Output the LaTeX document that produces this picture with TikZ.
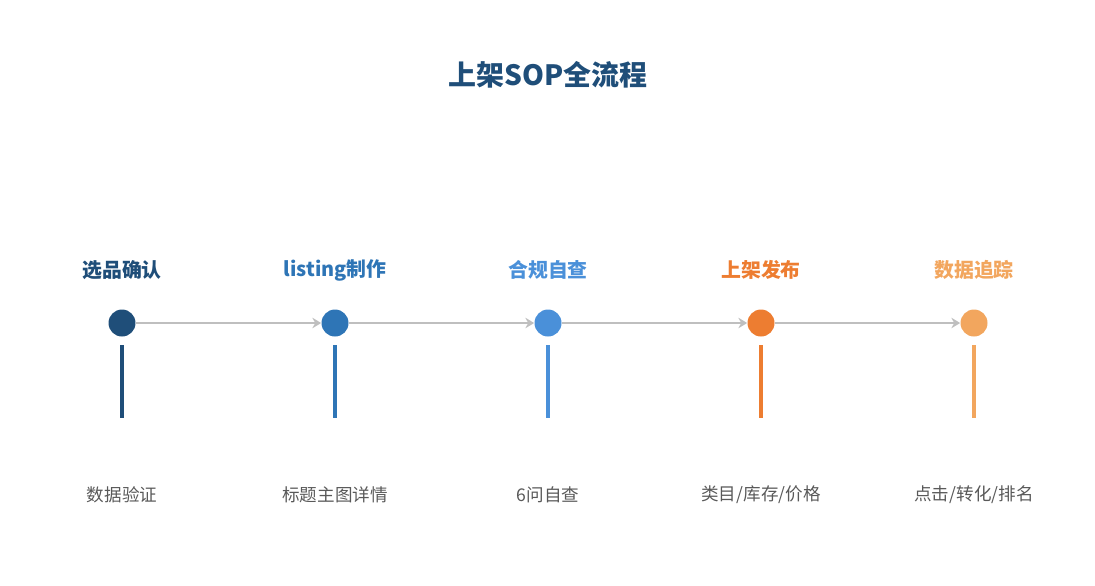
\documentclass[tikz,border=0pt]{standalone}
\usepackage{fontspec}
\setmainfont{Noto Sans CJK SC}
\usetikzlibrary{arrows.meta}
\definecolor{cA}{HTML}{1F4E79}
\definecolor{cB}{HTML}{2E75B6}
\definecolor{cC}{HTML}{4A90D9}
\definecolor{cD}{HTML}{ED7D31}
\definecolor{cE}{HTML}{F2A65E}
\definecolor{linegray}{HTML}{BFBFBF}
\definecolor{textgray}{HTML}{595959}
\tikzset{
  dot/.style={circle,inner sep=0pt,minimum size=0.54cm},
  stage/.style={font=\fontsize{11.3}{13}\selectfont\bfseries},
  detail/.style={font=\fontsize{10}{12}\selectfont,text=textgray},
  flow/.style={-{Stealth[length=5pt,width=6pt]},line width=1.7pt,linegray}
}
\begin{document}
\begin{tikzpicture}[x=0.02cm,y=-0.02cm]
	\useasboundingbox (0,0) rectangle (1095,585);
	% Title
	\node (title) [font=\fontsize{15.9}{18}\selectfont\bfseries,text=cA] at (548,75) {上架SOP全流程};
	% Stages
	\foreach \i/\x/\c/\name/\info in {1/122/cA/选品确认/数据验证, 2/335/cB/listing制作/标题主图详情, 3/548/cC/合规自查/6问自查, 4/761/cD/上架发布/{类目/库存/价格}, 5/974/cE/数据追踪/{点击/转化/排名}} {
		\node (s\i) [dot,fill=\c] at (\x,323) {};
		\node (t\i) [stage,text=\c] at (\x,270) {\name};
		\node (d\i) [detail] at (\x,495) {\info};
		\draw [line width=2.3pt,\c] (\x,345) coordinate (u\i) -- (\x,418) coordinate (v\i);
	}
	% Connectors
	\foreach \a/\b in {1/2,2/3,3/4,4/5}
		\draw [flow] (s\a) -- (s\b);
\end{tikzpicture}
\end{document}
